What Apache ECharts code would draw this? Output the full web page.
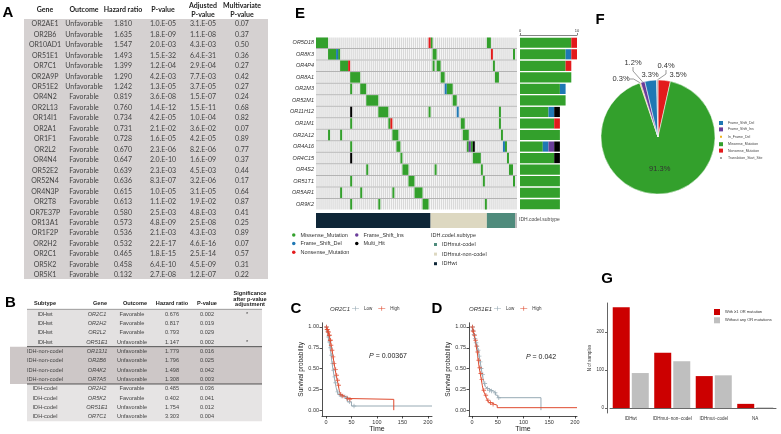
<!DOCTYPE html>
<html><head><meta charset="utf-8">
<script src="https://cdn.jsdelivr.net/npm/echarts@6/dist/echarts.min.js"></script>
<style>html,body{margin:0;padding:0;background:#fff}#c{width:781px;height:434px}</style>
</head><body><div id="c"></div>
<script>
// ---------------- Panel A table ----------------
const aGenes = ['OR2AE1','OR2B6','OR10AD1','OR51E1','OR7C1','OR2A9P','OR51E2','OR4N2','OR2L13','OR14I1','OR2A1','OR1F1','OR2L2','OR4N4','OR52E2','OR52N4','OR4N3P','OR2T8','OR7E37P','OR13A1','OR1F2P','OR2H2','OR2C1','OR5K2','OR5K1'];
const aOutcome = ['Unfavorable','Unfavorable','Unfavorable','Unfavorable','Unfavorable','Unfavorable','Unfavorable','Favorable','Favorable','Favorable','Favorable','Favorable','Favorable','Favorable','Favorable','Favorable','Favorable','Favorable','Favorable','Favorable','Favorable','Favorable','Favorable','Favorable','Favorable'];
const aHR = ['1.810','1.635','1.547','1.493','1.399','1.290','1.242','0.819','0.760','0.734','0.731','0.728','0.670','0.647','0.639','0.636','0.615','0.613','0.580','0.573','0.536','0.532','0.465','0.458','0.132'];
const aP = ['1.0.E-05','1.8.E-09','2.0.E-03','1.5.E-32','1.2.E-04','4.2.E-03','1.3.E-05','3.6.E-08','1.4.E-12','4.2.E-05','2.1.E-02','1.6.E-05','2.3.E-06','2.0.E-10','2.3.E-03','8.3.E-07','1.0.E-05','1.1.E-02','2.5.E-03','4.8.E-09','2.1.E-03','2.2.E-17','1.8.E-15','6.4.E-10','2.7.E-08'];
const aAdjP = ['3.1.E-05','1.1.E-08','4.3.E-03','6.4.E-31','2.9.E-04','7.7.E-03','3.7.E-05','1.5.E-07','1.5.E-11','1.0.E-04','3.6.E-02','4.2.E-05','8.2.E-06','1.6.E-09','4.5.E-03','3.2.E-06','3.1.E-05','1.9.E-02','4.8.E-03','2.5.E-08','4.3.E-03','4.6.E-16','2.5.E-14','4.5.E-09','1.2.E-07'];
const aMultiP = ['0.07','0.37','0.50','0.36','0.27','0.42','0.27','0.24','0.68','0.82','0.07','0.89','0.77','0.37','0.44','0.17','0.64','0.87','0.41','0.25','0.89','0.07','0.57','0.31','0.22'];

// ---------------- Panel B table ----------------
const bSubtype = ['IDHwt','IDHwt','IDHwt','IDHwt','IDH-non-codel','IDH-non-codel','IDH-non-codel','IDH-non-codel','IDH-codel','IDH-codel','IDH-codel','IDH-codel'];
const bGene = ['OR2C1','OR2H2','OR2L2','OR51E1','OR13J1','OR2B6','OR4K2','OR7A5','OR2H2','OR5K2','OR51E1','OR7C1'];
const bOutcome = ['Favorable','Favorable','Favorable','Unfavorable','Unfavorable','Unfavorable','Unfavorable','Unfavorable','Favorable','Favorable','Unfavorable','Unfavorable'];
const bHR = ['0.676','0.817','0.793','1.147','1.779','1.796','1.498','1.308','0.485','0.402','1.754','3.303'];
const bP = ['0.002','0.019','0.029','0.002','0.016','0.025','0.042','0.003','0.036','0.041','0.012','0.004'];
const bSig = ['*','','','*','','','','','','','',''];

// ---------------- Panel E oncoplot ----------------
const eGenes = ['OR5D18','OR8K3','OR4P4','OR8A1','OR2M3','OR52M1','OR11H12','OR1M1','OR2A12','OR4A16','OR4C15','OR4S2','OR51T1','OR5AR1','OR9K2'];
const eSampleCount = 100;
// runs: [first sample, gene index, number of samples]
const eMissense = [[0,0,6],[57,0,1],[85,0,2],[6,1,4],[11,1,1],[58,1,2],[98,1,1],[12,2,4],[58,2,1],[60,2,2],[88,2,1],
  [17,3,5],[62,3,2],[89,3,2],[17,4,1],[22,4,3],[65,4,3],[25,5,6],[68,5,2],[31,6,5],[56,6,1],[91,6,1],
  [17,7,1],[36,7,1],[72,7,2],[91,7,1],[6,8,1],[12,8,1],[38,8,3],[73,8,3],[92,8,1],[17,9,1],[40,9,2],[75,9,1],[77,9,1],[94,9,1],
  [42,10,1],[78,10,4],[95,10,1],[25,11,1],[43,11,3],[59,11,1],[82,11,1],[96,11,2],[17,12,1],[46,12,3],[83,12,1],[98,12,1],
  [12,13,1],[22,13,1],[38,13,1],[49,13,4],[17,14,1],[31,14,1],[53,14,3],[84,14,1]];
const eFrameShiftDel = [[10,1,1],[64,4,1],[70,6,1],[93,9,1]];
const eNonsense = [[56,0,1],[87,1,1],[16,2,1],[37,7,1]];
const eFrameShiftIns = [[76,9,1]];
const eMultiHit = [[17,6,1],[78,9,1],[17,10,1]];
// subtype annotation (samples per subtype)
const eSubtypeNames = ['IDHwt','IDHmut-non-codel','IDHmut-codel','NA'];
const eSubtypeCounts = [57,28,14,1];
// per-gene counts for the right bar plot
const barMissense = [9,8,8,9,7,8,5,6,7,4,6,7,7,7,7];
const barFrameShiftDel = [0,1,0,0,1,0,1,0,0,1,0,0,0,0,0];
const barFrameShiftIns = [0,0,0,0,0,0,0,0,0,1,0,0,0,0,0];
const barNonsense = [1,1,1,0,0,0,0,1,0,0,0,0,0,0,0];
const barMultiHit = [0,0,0,0,0,0,1,0,0,1,1,0,0,0,0];

// ---------------- Panel F pie ----------------
const pieNames = ['Nonsense_Mutation','Missense_Mutation','In_Frame_Del','Frame_Shift_Ins','Frame_Shift_Del','Translation_Start_Site'];
const piePercents = [3.5,91.3,0.3,1.2,3.3,0.4];
const pieLegendOrder = ['Frame_Shift_Del','Frame_Shift_Ins','In_Frame_Del','Missense_Mutation','Nonsense_Mutation','Translation_Start_Site'];

// ---------------- Panel C / D Kaplan-Meier ----------------
const kmCLowT  = [0,2,4,6,8,10,12,14,16,18,20,22,24,27,35,40,42,50,208];
const kmCLowS  = [1,0.95,0.88,0.82,0.75,0.66,0.56,0.48,0.40,0.33,0.27,0.22,0.19,0.17,0.16,0.15,0.10,0.05,0.05];
const kmCHighT = [0,2,4,6,8,10,12,14,16,18,20,22,24,26,28,31,35,40,45,133];
const kmCHighS = [1,0.97,0.94,0.90,0.84,0.78,0.72,0.64,0.56,0.49,0.42,0.36,0.30,0.24,0.19,0.17,0.16,0.14,0.13,0];
const kmCLowCens  = [1,3,5,7,9,11,13,15,17,19,23,26,30,37,41,46,55];
const kmCHighCens = [1,2,3,4,5,6,7,8,9,10,12,14,16,19,21,23,25,29,33,42,47];
const kmDLowT  = [0,2,4,6,8,10,12,14,16,18,20,22,24,26,28,32,38,42,46,50,134];
const kmDLowS  = [1,0.96,0.91,0.86,0.81,0.77,0.72,0.65,0.58,0.50,0.43,0.37,0.32,0.28,0.26,0.24,0.23,0.21,0.18,0.15,0];
const kmDHighT = [0,2,4,6,8,10,12,14,16,18,20,22,24,26,28,30,33,38,44,49,204];
const kmDHighS = [1,0.95,0.90,0.84,0.77,0.70,0.60,0.51,0.44,0.37,0.30,0.24,0.21,0.18,0.15,0.12,0.09,0.07,0.06,0.03,0.03];
const kmDLowCens  = [1,2,4,6,8,10,12,14,16,18,21,25,30,34,38,45,52];
const kmDHighCens = [1,2,3,5,7,9,11,13,15,17,19,23,27,31,36,41];
const kmTicksX = [0,50,100,150,200];
const kmTicksY = [0,0.25,0.5,0.75,1];

// ---------------- Panel G bars ----------------
const gCategories = ['IDHwt','IDHmut\u2212non\u2212codel','IDHmut\u2212codel','NA'];
const gWith = [265,145,84,11];
const gWithout = [92,123,86,2];
const gTicks = [0,100,200];

// =====================================================
const FONT = 'Liberation Sans';
const COLORS = {Missense_Mutation:'#33a02c', Frame_Shift_Del:'#1f78b4', Nonsense_Mutation:'#e31a1c', Frame_Shift_Ins:'#6a3d9a', Multi_Hit:'#000000', In_Frame_Del:'#f1b21c', Translation_Start_Site:'#a6a6a6'};
const LOWC = '#97aab4', HIGHC = '#df4a2e';

function T(x, y, text, o) { return {type:'text', x:x, y:y, silent:true, z:10, style:Object.assign({text:text, fill:'#333', fontSize:7, fontFamily:FONT, align:'center', verticalAlign:'middle'}, o||{})}; }
function R(x, y, w, h, fill) { return {type:'rect', silent:true, z:1, shape:{x:x,y:y,width:w,height:h}, style:{fill:fill}}; }
function L(x1, y1, x2, y2, stroke, lw) { return {type:'line', silent:true, z:2, shape:{x1:x1,y1:y1,x2:x2,y2:y2}, style:{stroke:stroke, lineWidth:lw}}; }

const g = [];
// panel letters
const letter = {fontSize:15, fontWeight:'bold', fill:'#000', fontFamily:FONT};
g.push(T(8,13,'A',letter), T(10.5,303,'B',letter), T(296,309,'C',letter), T(437,309,'D',letter), T(300,14,'E',letter), T(600,20,'F',letter), T(607,279,'G',letter));

// table A
const aCols = [45,84,123,163,203,242];
g.push(R(24,19,244,260,'#d5d1d1'));
const aH = {fontWeight:'bold', fontFamily:'Lato', fontSize:7, fill:'#222', lineHeight:9.5};
g.push(T(aCols[0],10,'Gene',aH), T(aCols[1],10,'Outcome',aH), T(aCols[2],10,'Hazard ratio',aH), T(aCols[3],10,'P-value',aH), T(aCols[4],10,'Adjusted\nP-value',aH), T(aCols[5],10,'Multivariate\nP-value',aH));
const aS = {fontFamily:'Lato', fontSize:7, fill:'#444'};
for (let i = 0; i < aGenes.length; i++) {
  const y = 24 + i * 10.46;
  [aGenes[i], aOutcome[i], aHR[i], aP[i], aAdjP[i], aMultiP[i]].forEach((v, j) => g.push(T(aCols[j], y, v, aS)));
}

// table B
const bCols = [45,97,132,172,207,247];
const rowB = 9.33, y0B = 314;
g.push(R(27, y0B - rowB/2, 235, rowB*4, '#e3e1e1'));
g.push(R(10, y0B + rowB*3.5, 252, rowB*4, '#cdc7c7'));
g.push(R(27, y0B + rowB*7.5, 235, rowB*4, '#e6e4e4'));
g.push(L(27, y0B - rowB/2, 262, y0B - rowB/2, '#666', 0.6));
g.push(L(27, y0B + rowB*3.5, 262, y0B + rowB*3.5, '#444', 0.9));
g.push(L(27, y0B + rowB*7.5, 262, y0B + rowB*7.5, '#444', 0.9));
const bH = {fontWeight:'bold', fontSize:5.6, fill:'#222', lineHeight:5.8};
g.push(T(45,303,'Subtype',bH), T(100,303,'Gene',bH), T(135,303,'Outcome',bH), T(172,303,'Hazard ratio',bH), T(207,303,'P-value',bH), T(250,299,'Significance\nafter p-value\nadjustment',bH));
const bS = {fontSize:5.6, fill:'#444'};
for (let i = 0; i < bGene.length; i++) {
  const y = y0B + i * rowB;
  g.push(T(bCols[0], y, bSubtype[i], bS), T(bCols[1], y, bGene[i], Object.assign({fontStyle:'italic'}, bS)), T(bCols[2], y, bOutcome[i], bS), T(bCols[3], y, bHR[i], bS), T(bCols[4], y, bP[i], bS));
  if (bSig[i]) g.push(T(bCols[5], y, bSig[i], bS));
}

// panel E extra texts
g.push(T(519,220,'IDH.codel.subtype',{fontSize:5, align:'left', fill:'#444'}));
g.push(T(431,235,'IDH.codel.subtype',{fontSize:5.5, align:'left', fill:'#333'}));
// KM titles and p values
g.push(T(350,309,'OR2C1',{fontSize:6, fontStyle:'italic', align:'right'}));
g.push(T(492,309,'OR51E1',{fontSize:6, fontStyle:'italic', align:'right'}));
const pRich = {i:{fontStyle:'italic', fontSize:7, fontFamily:FONT, fill:'#222'}};
g.push(T(388,356,'{i|P} = 0.00367',{fontSize:7, fill:'#222', rich:pRich}));
g.push(T(541,357,'{i|P} = 0.042',{fontSize:7, fill:'#222', rich:pRich}));

// step lookup for censor marks
function survAt(ts, ss, t) { let v = ss[0]; for (let i = 0; i < ts.length; i++) { if (ts[i] <= t) v = ss[i]; } return v; }
function zip(ts, ss) { return ts.map((t, i) => [t, ss[i]]); }
function cens(times, ts, ss) { return times.map(t => [t, survAt(ts, ss, t)]); }

const PLUS = 'path://M4,0H6V4H10V6H6V10H4V6H0V4H4Z';
const LEGLINE = 'path://M0,4.5H5V1.5H6V4.5H11V5.5H6V8.5H5V5.5H0Z';

// renderers
function renderBg(params, api) {
  const p = api.coord([api.value(0), api.value(1)]);
  const w = api.size([1, 0])[0];
  const bh = api.size([0, 1])[1];
  return {type:'rect', shape:{x:p[0]+0.35, y:p[1]-bh/2+0.5, width:w-0.7, height:bh-1}, style:{fill:'#d9d9d9'}};
}
function renderRowLine(params, api) {
  const p = api.coord([0, api.value(0)]);
  const w = api.size([eSampleCount, 0])[0];
  const bh = api.size([0, 1])[1];
  return {type:'rect', shape:{x:p[0], y:p[1]+bh/2-0.5, width:w, height:1}, style:{fill:'#b3b3b3'}};
}
function renderRun(params, api) {
  const p = api.coord([api.value(0), api.value(1)]);
  const w = api.size([api.value(2), 0])[0];
  const bh = api.size([0, 1])[1];
  return {type:'rect', shape:{x:p[0], y:p[1]-bh/2+0.5, width:w, height:bh-1}, style:{fill:api.visual('color')}};
}
const bgData = [];
for (let gi = 0; gi < eGenes.length; gi++) for (let s = 0; s < eSampleCount; s++) bgData.push([s, gi]);
const rowLineData = eGenes.slice(0, -1).map((_, i) => [i]);

function runSeries(name, data) {
  return {type:'custom', name:name, xAxisIndex:0, yAxisIndex:0, renderItem:renderRun, data:data, itemStyle:{color:COLORS[name]}, z:3, encode:{x:0, y:1}};
}
function stackSeries(name, data) {
  return {type:'bar', name:name, xAxisIndex:2, yAxisIndex:2, stack:'genes', data:data, barWidth:'88%', itemStyle:{color:COLORS[name]}};
}

const kmAxisX = () => ({
  type:'value', gridIndex:0, splitLine:{show:false},
  axisLine:{onZero:false, lineStyle:{color:'#222', width:0.8}},
  axisTick:{length:2.5, customValues:kmTicksX, lineStyle:{color:'#222', width:0.8}},
  axisLabel:{fontSize:5.5, color:'#333', margin:3, customValues:kmTicksX, fontFamily:FONT},
  name:'Time', nameLocation:'middle', nameGap:10, nameTextStyle:{fontSize:7, color:'#222', fontFamily:FONT}
});
const kmAxisY = () => ({
  type:'value', min:-0.07, max:1.05, splitLine:{show:false},
  axisLine:{show:true, onZero:false, lineStyle:{color:'#222', width:0.8}},
  axisTick:{show:true, length:2.5, customValues:kmTicksY, lineStyle:{color:'#222', width:0.8}},
  axisLabel:{fontSize:5.5, color:'#333', margin:3, customValues:kmTicksY, formatter:v => v.toFixed(2), fontFamily:FONT},
  name:'Survival probability', nameLocation:'middle', nameGap:15, nameRotate:90, nameTextStyle:{fontSize:6.5, color:'#222', fontFamily:FONT}
});

const xC = kmAxisX(); xC.gridIndex = 3; xC.min = -7.8; xC.max = 208;
const xD = kmAxisX(); xD.gridIndex = 4; xD.min = -5.8; xD.max = 204;
const yC = kmAxisY(); yC.gridIndex = 3;
const yD = kmAxisY(); yD.gridIndex = 4; yD.nameGap = 17;

function kmLine(name, ts, ss, color, idx) {
  return {type:'line', name:name, xAxisIndex:idx, yAxisIndex:idx, step:'end', data:zip(ts, ss), showSymbol:false, symbol:'none', lineStyle:{color:color, width:1}, itemStyle:{color:color}, z:3};
}
function kmCens(times, ts, ss, color, idx) {
  return {type:'scatter', name:'censor', xAxisIndex:idx, yAxisIndex:idx, data:cens(times, ts, ss), symbol:PLUS, symbolSize:4.5, itemStyle:{color:color}, z:4};
}

// where each pie percentage label sits (label text placement only)
const pieLabelSpots = [[678,75],null,[621,79],[633,63],[650,75],[666,66]];

const option = {
  animation:false,
  textStyle:{fontFamily:FONT},
  graphic:{elements:g},
  grid:[
    {left:316, top:37, width:201, height:173},
    {left:316, top:213, width:201, height:15},
    {left:520, top:37, width:57, height:173},
    {left:322, top:322.8, width:110, height:94.1},
    {left:469, top:322.8, width:108, height:94.1},
    {left:610, top:303, width:166, height:110}
  ],
  xAxis:[
    {type:'value', gridIndex:0, min:0, max:eSampleCount, show:false},
    {type:'value', gridIndex:1, min:0, max:eSampleCount, show:false},
    {type:'value', gridIndex:2, min:0, max:10, position:'top', offset:2, splitLine:{show:false},
      axisLine:{show:true, lineStyle:{color:'#333', width:0.6}}, axisTick:{show:true, length:2, customValues:[0,10], lineStyle:{color:'#333', width:0.6}},
      axisLabel:{fontSize:4, color:'#333', margin:2, customValues:[0,10]}},
    xC, xD,
    {type:'category', gridIndex:5, data:gCategories, axisLine:{lineStyle:{color:'#222', width:0.7}}, axisTick:{alignWithLabel:true, length:2, lineStyle:{color:'#222', width:0.7}}, axisLabel:{fontSize:4.5, color:'#333', margin:3, interval:0}}
  ],
  yAxis:[
    {type:'category', gridIndex:0, data:eGenes, inverse:true, axisLine:{show:false}, axisTick:{show:false}, axisLabel:{fontSize:5.5, fontStyle:'italic', color:'#333', margin:2}},
    {type:'category', gridIndex:1, data:['subtype'], show:false},
    {type:'category', gridIndex:2, data:eGenes, inverse:true, show:false},
    yC, yD,
    {type:'value', gridIndex:5, min:-13, max:276, splitLine:{show:false}, offset:3,
      axisLine:{show:true, lineStyle:{color:'#222', width:0.7}}, axisTick:{show:true, length:2, customValues:gTicks, lineStyle:{color:'#222', width:0.7}},
      axisLabel:{fontSize:4.5, color:'#333', margin:3, customValues:gTicks},
      name:'N of samples', nameLocation:'middle', nameGap:12, nameRotate:90, nameTextStyle:{fontSize:4.5, color:'#333'}}
  ],
  legend:[
    {data:['Missense_Mutation','Frame_Shift_Del','Nonsense_Mutation'], left:292, top:232, orient:'vertical', icon:'circle', itemWidth:3.5, itemHeight:3.5, itemGap:2.6, padding:0, textStyle:{fontSize:5.5, color:'#333'}},
    {data:['Frame_Shift_Ins','Multi_Hit'], left:355, top:232, orient:'vertical', icon:'circle', itemWidth:3.5, itemHeight:3.5, itemGap:2.6, padding:0, textStyle:{fontSize:5.5, color:'#333'}},
    {data:['IDHmut-codel','IDHmut-non-codel','IDHwt'], left:434, top:241.5, orient:'vertical', icon:'rect', itemWidth:3, itemHeight:3, itemGap:3.6, padding:0, textStyle:{fontSize:5.5, color:'#333'}},
    {data:pieLegendOrder, left:718, top:121, orient:'vertical', icon:'rect', itemWidth:4, itemHeight:4, itemGap:2.4, padding:0, textStyle:{fontSize:3.5, color:'#444'}},
    {data:[{name:'Low', icon:LEGLINE},{name:'High', icon:LEGLINE}], left:352, top:306, itemWidth:7, itemHeight:5, itemGap:6, padding:0, textStyle:{fontSize:4.5, color:'#333'}},
    {data:[{name:'Low', icon:LEGLINE},{name:'High', icon:LEGLINE}], left:494, top:306, itemWidth:7, itemHeight:5, itemGap:6, padding:0, textStyle:{fontSize:4.5, color:'#333'}},
    {data:['With \u22651 OR mutation','Without any OR mutations'], left:714, top:309, orient:'vertical', icon:'rect', itemWidth:6, itemHeight:6, itemGap:2.3, padding:0, textStyle:{fontSize:4, color:'#333'}}
  ],
  series:[
    {type:'custom', name:'bg', xAxisIndex:0, yAxisIndex:0, renderItem:renderBg, data:bgData, silent:true, z:1, encode:{x:0, y:1}},
    {type:'custom', name:'rowlines', xAxisIndex:0, yAxisIndex:0, renderItem:renderRowLine, data:rowLineData, silent:true, z:2, encode:{y:0}},
    runSeries('Missense_Mutation', eMissense),
    runSeries('Frame_Shift_Del', eFrameShiftDel),
    runSeries('Nonsense_Mutation', eNonsense),
    runSeries('Frame_Shift_Ins', eFrameShiftIns),
    runSeries('Multi_Hit', eMultiHit),
    {type:'bar', name:'IDHwt', xAxisIndex:1, yAxisIndex:1, stack:'sub', data:[eSubtypeCounts[0]], barWidth:15, itemStyle:{color:'#0e2637'}},
    {type:'bar', name:'IDHmut-non-codel', xAxisIndex:1, yAxisIndex:1, stack:'sub', data:[eSubtypeCounts[1]], barWidth:15, itemStyle:{color:'#ddd8c1'}},
    {type:'bar', name:'IDHmut-codel', xAxisIndex:1, yAxisIndex:1, stack:'sub', data:[eSubtypeCounts[2]], barWidth:15, itemStyle:{color:'#4f8b7c'}},
    {type:'bar', name:'NA', xAxisIndex:1, yAxisIndex:1, stack:'sub', data:[eSubtypeCounts[3]], barWidth:15, itemStyle:{color:'#bdbdbd'}},
    stackSeries('Missense_Mutation', barMissense),
    stackSeries('Frame_Shift_Del', barFrameShiftDel),
    stackSeries('Frame_Shift_Ins', barFrameShiftIns),
    stackSeries('Nonsense_Mutation', barNonsense),
    stackSeries('Multi_Hit', barMultiHit),
    kmLine('Low', kmCLowT, kmCLowS, LOWC, 3),
    kmLine('High', kmCHighT, kmCHighS, HIGHC, 3),
    kmCens(kmCLowCens, kmCLowT, kmCLowS, LOWC, 3),
    kmCens(kmCHighCens, kmCHighT, kmCHighS, HIGHC, 3),
    kmLine('Low', kmDLowT, kmDLowS, LOWC, 4),
    kmLine('High', kmDHighT, kmDHighS, HIGHC, 4),
    kmCens(kmDLowCens, kmDLowT, kmDLowS, LOWC, 4),
    kmCens(kmDHighCens, kmDHighT, kmDHighS, HIGHC, 4),
    {type:'pie', name:'pie', center:[658,137], radius:57, startAngle:90, clockwise:true, avoidLabelOverlap:false,
      itemStyle:{borderColor:'#fff', borderWidth:0.5},
      label:{show:true, position:'outside', formatter:'{c}%', fontSize:7.5, color:'#333', fontFamily:FONT},
      labelLine:{show:true, length:6, length2:4, lineStyle:{color:'#555', width:0.6}},
      labelLayout:function (p) {
        const s = pieLabelSpots[p.dataIndex];
        if (!s) return {hideOverlap:false};
        return {x:s[0], y:s[1], align:'center', verticalAlign:'middle', hideOverlap:false};
      },
      data:pieNames.map((n, i) => ({name:n, value:piePercents[i], itemStyle:{color:COLORS[n]},
        label: i === 1 ? {position:'inside', fontSize:7.5, color:'#333'} : undefined,
        labelLine: (i === 0 || i === 4) ? {show:false} : undefined}))},
    {type:'bar', name:'With \u22651 OR mutation', xAxisIndex:5, yAxisIndex:5, data:gWith, barWidth:17, barGap:'12%', itemStyle:{color:'#cc0000'}},
    {type:'bar', name:'Without any OR mutations', xAxisIndex:5, yAxisIndex:5, data:gWithout, barWidth:17, barGap:'12%', itemStyle:{color:'#bfbfbf'}}
  ]
};
const chart = echarts.init(document.getElementById('c'), null, {renderer:'canvas'});
chart.setOption(option);
</script></body></html>
